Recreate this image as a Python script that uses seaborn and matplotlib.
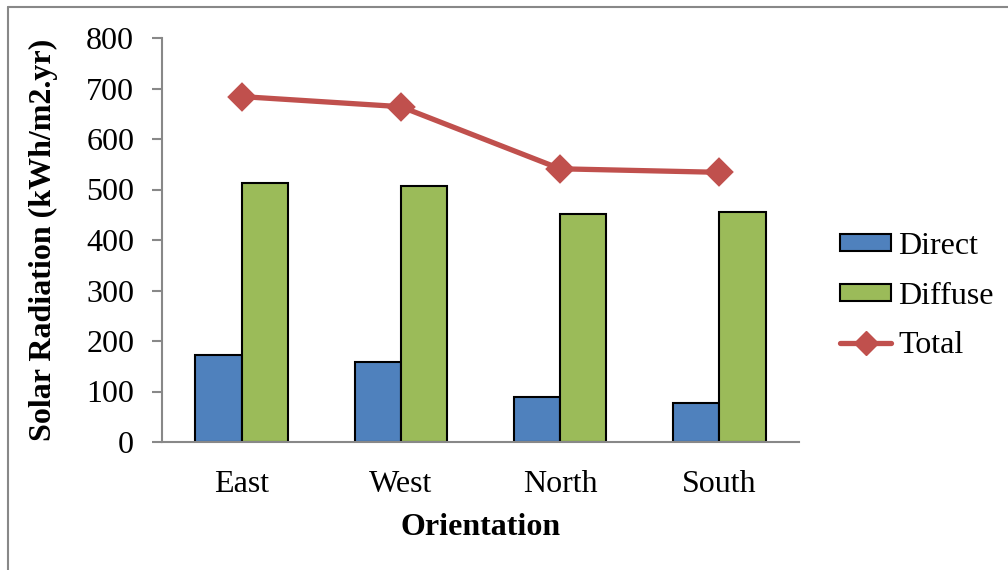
import matplotlib
matplotlib.use("Agg")
import matplotlib.pyplot as plt
from matplotlib.patches import Patch
from matplotlib.lines import Line2D
import seaborn as sns
import pandas as pd

# Annual solar radiation by facade orientation
orientations = ["East", "West", "North", "South"]
direct = [172, 158, 90, 78]
diffuse = [512, 506, 451, 456]
total = [684, 664, 541, 534]
y_ticks = [0, 100, 200, 300, 400, 500, 600, 700, 800]

blue = "#4F81BD"
green = "#9BBB59"
red = "#C0504D"
axis_grey = "#888888"

sns.set_theme(style="white")
plt.rcParams["font.family"] = ["Liberation Serif", "DejaVu Serif"]
plt.rcParams["font.size"] = 23
plt.rcParams["text.color"] = "black"
plt.rcParams["axes.labelcolor"] = "black"
plt.rcParams["xtick.color"] = "black"
plt.rcParams["ytick.color"] = "black"

df = pd.DataFrame({
    "Orientation": orientations * 2,
    "Series": ["Direct"] * 4 + ["Diffuse"] * 4,
    "Value": direct + diffuse,
})

fig = plt.figure(figsize=(10.08, 5.70), dpi=100)
ax = fig.add_axes([162 / 1008, 128 / 570, (799 - 162) / 1008, (442 - 38) / 570])

sns.barplot(data=df, x="Orientation", y="Value", hue="Series",
            palette=[blue, green], saturation=1, width=0.58, edgecolor="black",
            linewidth=1.5, ax=ax, legend=False, errorbar=None,
            order=orientations, hue_order=["Direct", "Diffuse"])

sns.pointplot(x=orientations, y=total, color=red, markers="D",
              markersize=12, linewidth=3.8, ax=ax, errorbar=None)

ax.set_xlim(-0.5, 3.5)
ax.set_ylim(0, 800)
ax.set_yticks(y_ticks)
ax.set_yticklabels([str(v) for v in y_ticks], fontsize=23)
ax.set_xticks(range(len(orientations)))
ax.set_xticklabels(orientations, fontsize=23)
ax.set_xticks([i - 0.5 for i in range(len(orientations) + 1)], minor=True)
ax.tick_params(axis="x", which="major", length=0, pad=20, labelcolor="black")
ax.tick_params(axis="x", which="minor", length=9, width=1.5, color=axis_grey, direction="out")
ax.tick_params(axis="y", length=7, width=1.5, color=axis_grey, direction="out",
               pad=13, left=True, labelcolor="black")
for side in ["top", "right"]:
    ax.spines[side].set_visible(False)
for side in ["left", "bottom"]:
    ax.spines[side].set_color(axis_grey)
    ax.spines[side].set_linewidth(1.5)

ax.set_xlabel("Orientation", fontsize=23, fontweight="bold", labelpad=10, color="black")
ax.set_ylabel("Solar Radiation (kWh/m2.yr)", fontsize=23, fontweight="bold",
              labelpad=20, color="black")

handles = [
    Patch(facecolor=blue, edgecolor="black", linewidth=1.5),
    Patch(facecolor=green, edgecolor="black", linewidth=1.5),
    Line2D([0], [0], color=red, lw=3.8, marker="D", markersize=12),
]
fig.legend(handles, ["Direct", "Diffuse", "Total"], loc="center left",
           bbox_to_anchor=(840 / 1008, 1 - 296 / 570), frameon=False,
           fontsize=23, handlelength=1.6, handleheight=0.45,
           handletextpad=0.22, labelspacing=0.65, borderpad=0, borderaxespad=0)

# outer frame lines along the left and top edges
fig.add_artist(Line2D([8 / 1008, 8 / 1008], [0, 1 - 7 / 570], transform=fig.transFigure,
                      color=axis_grey, lw=1.5))
fig.add_artist(Line2D([8 / 1008, 1], [1 - 7 / 570, 1 - 7 / 570], transform=fig.transFigure,
                      color=axis_grey, lw=1.5))

fig.savefig("out.png", dpi=100)
